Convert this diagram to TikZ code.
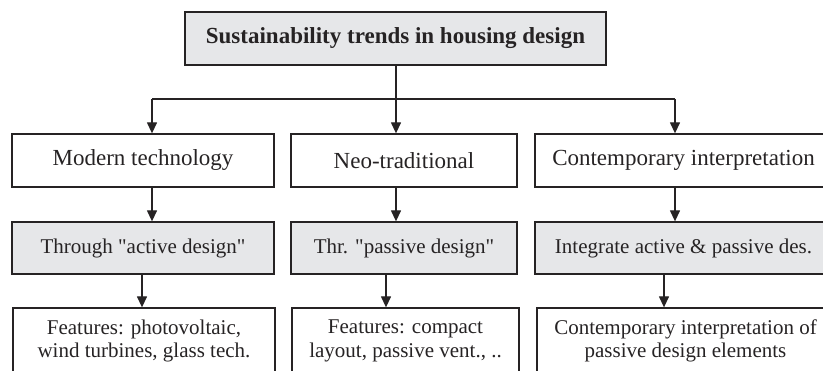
\documentclass[tikz,border=0pt]{standalone}
\usepackage{fontspec}
\setmainfont{Liberation Serif}[Ligatures=TeXOff]
\usetikzlibrary{arrows.meta}
\definecolor{ink}{HTML}{262324}
\definecolor{boxgray}{HTML}{E6E7E9}
\tikzset{
  box/.style={draw=ink, line width=1.3pt, inner sep=0pt, align=center,
    text=ink, minimum height=53pt},
  shaded/.style={box, fill=boxgray},
  headfont/.style={font=\fontsize{23}{27}\selectfont},
  midfont/.style={font=\fontsize{21}{24}\selectfont},
  lowfont/.style={font=\fontsize{21}{23.5}\selectfont},
  link/.style={draw=ink, line width=1.3pt},
  arr/.style={link, -{Triangle[width=10pt,length=11pt]}},
}
\begin{document}
\begin{tikzpicture}[x=1pt, y=-1pt]
\useasboundingbox (0,0) rectangle (823,371);
\clip (0,0) rectangle (823,371);

% title
\node[shaded, headfont, minimum width=421pt] (title) at (395.5,38.5)
  {\bfseries Sustainability trends in housing design};

% first row: the three trends
\node[box, headfont, minimum width=262pt] (m1) at (143,160.5) {Modern technology};
\node[box, headfont, minimum width=226pt] (n1) at (404,160.5) {Neo-traditional};
\node[box, headfont, minimum width=297pt] (c1) at (683.5,160.5) {Contemporary interpretation};

% second row: design approach
\node[shaded, midfont, minimum width=262pt, minimum height=52pt] (m2) at (143,248) {Through "active design"};
\node[shaded, midfont, minimum width=226pt, minimum height=52pt] (n2) at (404,248) {Thr. "passive design"};
\node[shaded, midfont, minimum width=297pt, minimum height=52pt] (c2) at (683.5,248) {Integrate active \& passive des.};

% third row: features
\node[box, lowfont, minimum width=262pt, minimum height=66pt] (m3) at (144,341)
  {Features: photovoltaic,\\wind turbines, glass tech.};
\node[box, lowfont, minimum width=227pt, minimum height=66pt] (n3) at (405.5,341)
  {Features: compact\\layout, passive vent., ..};
\node[box, lowfont, minimum width=297pt, minimum height=66pt] (c3) at (685.5,341)
  {Contemporary interpretation of\\passive design elements};

% distribution bus
\coordinate (busM) at (152,99);
\coordinate (busN) at (396,99);
\coordinate (busC) at (675,99);
\draw[link] (title.south -| busN) -- (busN);
\draw[link] (busM) -- (busC);
\draw[arr] (busM) -- (busM |- m1.north);
\draw[arr] (busN) -- (busN |- n1.north);
\draw[arr] (busC) -- (busC |- c1.north);

% row 1 to row 2
\draw[arr] (busM |- m1.south) -- (busM |- m2.north);
\draw[arr] (busN |- n1.south) -- (busN |- n2.north);
\draw[arr] (busC |- c1.south) -- (busC |- c2.north);

% row 2 to row 3
\coordinate (lowM) at (142,0);
\coordinate (lowN) at (386,0);
\coordinate (lowC) at (664,0);
\draw[arr] (lowM |- m2.south) -- (lowM |- m3.north);
\draw[arr] (lowN |- n2.south) -- (lowN |- n3.north);
\draw[arr] (lowC |- c2.south) -- (lowC |- c3.north);
\end{tikzpicture}
\end{document}
